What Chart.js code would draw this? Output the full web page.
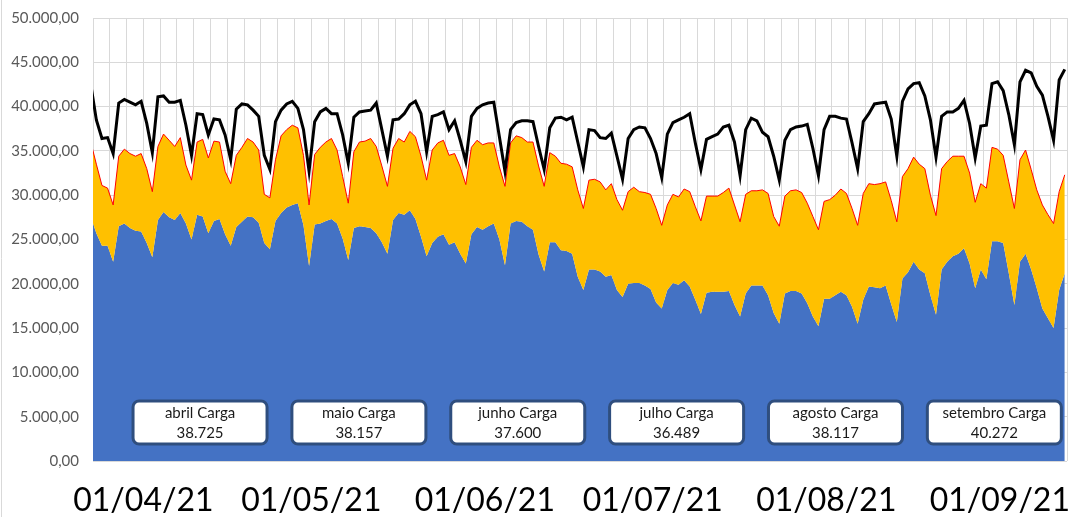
<!DOCTYPE html>
<html>
<head>
<meta charset="utf-8">
<script src="https://cdn.jsdelivr.net/npm/chart.js@4"></script>
<style>
  html, body { margin: 0; padding: 0; background: #fff; }
  canvas { display: block; }
</style>
</head>
<body>
<canvas id="grafico" width="1072" height="517"></canvas>
<script>
// dias a partir de 24/03/21 (indice 0)
const dias = Array.from({ length: 175 }, (_, i) => i);

// tick labels do eixo x e o dia de cada um
const rotulosX = ['01/04/21', '01/05/21', '01/06/21', '01/07/21', '01/08/21', '01/09/21'];
const diaRotulos = [8, 38, 69, 99, 130, 161];

// caixas com a carga media do mes
const meses = ['abril Carga', 'maio Carga', 'junho Carga', 'julho Carga', 'agosto Carga', 'setembro Carga'];
const cargaMedia = [38725, 38157, 37600, 36489, 38117, 40272];

// linha preta (carga)
const carga = [
  42500, 38500, 36400, 36500, 34700, 40400, 40800, 40500, 40200, 40600,
  38100, 34800, 41100, 41200, 40500, 40500, 40700, 37900, 34500, 39200,
  39100, 36800, 38600, 38500, 36800, 34000, 39700, 40300, 40200, 39600,
  38900, 34500, 32900, 38300, 39600, 40300, 40600, 39800, 37400, 32700,
  38300, 39400, 39800, 39200, 39200, 36800, 33600, 38800, 39400, 39500,
  39600, 40400, 37400, 34400, 38500, 38600, 39200, 40200, 40600, 39200,
  34900, 38900, 39100, 39400, 37400, 38400, 36200, 33800, 38900, 39800,
  40200, 40400, 40500, 36600, 32700, 37400, 38200, 38400, 38400, 38300,
  35500, 32900, 37600, 38700, 38800, 38500, 38800, 36000, 33200, 37400,
  37300, 36500, 36400, 37000, 34400, 31800, 36400, 37400, 37700, 37600,
  36400, 34700, 32000, 36900, 38200, 38500, 38800, 39200, 35900, 32900,
  36300, 36600, 36900, 37700, 37900, 36000, 32200, 37400, 38700, 38400,
  37100, 36600, 34400, 31700, 36200, 37400, 37700, 37800, 38000, 35300,
  32200, 37400, 38900, 38900, 38700, 38600, 35900, 33000, 38300, 39200,
  40300, 40400, 40500, 38600, 34400, 40600, 42000, 42600, 42700, 41200,
  38500, 34300, 38900, 39400, 39400, 39800, 40700, 38100, 34200, 37800,
  37900, 42600, 42800, 41800, 39100, 35700, 42800, 44100, 43800, 42300,
  41300, 38900, 36200, 43000, 44200
];

// topo da area laranja (com a borda vermelha)
const topoLaranja = [
  36000, 33500, 31100, 30800, 28900, 34400, 35200, 34700, 34400, 34700,
  33000, 30400, 35500, 36900, 36200, 35500, 36500, 33400, 31700, 36000,
  36300, 34200, 36100, 36000, 32700, 31300, 34500, 35400, 36400, 36000,
  35100, 30100, 29700, 34000, 36700, 37400, 37900, 37600, 34500, 28900,
  34600, 35400, 36000, 36400, 35100, 32100, 29100, 34900, 36000, 36100,
  36400, 35500, 33300, 31000, 35300, 36400, 36000, 37200, 36600, 34400,
  31700, 35100, 35900, 36200, 34500, 34700, 33200, 31200, 35400, 36200,
  35700, 35900, 35900, 33200, 31000, 35900, 36700, 36500, 36000, 36000,
  33300, 31000, 34800, 34400, 33600, 33500, 33200, 30600, 28500, 31700,
  31800, 31500, 30600, 31300, 29500, 28300, 30400, 30900, 30400, 30300,
  30100, 28500, 26600, 28900, 30100, 29800, 30700, 30400, 28700, 27100,
  29900, 29900, 29900, 30300, 30800, 28900, 27000, 30100, 30500, 30500,
  30600, 30200, 27600, 26500, 29900, 30500, 30600, 30300, 29100, 27600,
  26100, 29300, 29500, 30000, 30700, 30200, 28500, 26600, 30200, 31300,
  31200, 31300, 31500, 29400, 27000, 32100, 33000, 34300, 33500, 33000,
  30000, 27700, 33000, 33800, 34400, 34400, 34400, 32500, 29200, 31300,
  30800, 35400, 35200, 34500, 31500, 28500, 34000, 35100, 32900, 30600,
  28900, 27800, 26800, 30400, 32300
];

// area azul
const azul = [
  27600, 25700, 24300, 24300, 22500, 26500, 26800, 26300, 26000, 25900,
  24600, 23000, 27200, 28100, 27500, 27200, 28000, 26800, 25000, 27800,
  27600, 25700, 27100, 27300, 25600, 24300, 26400, 27000, 27600, 27500,
  26900, 24600, 23900, 27100, 28000, 28600, 28900, 29100, 26600, 22000,
  26700, 26800, 27100, 27300, 26800, 25100, 22700, 26300, 26500, 26400,
  26300, 25700, 24700, 23400, 27200, 28000, 27800, 28300, 27300, 25300,
  23100, 24600, 25300, 25600, 24400, 24700, 23400, 22300, 25600, 26400,
  26100, 26500, 26800, 25000, 22100, 26800, 27100, 27000, 26500, 26100,
  23300, 21400, 24700, 24700, 23800, 23700, 23400, 20800, 19300, 21600,
  21600, 21400, 20800, 21000, 19300, 18500, 20000, 20100, 20100, 19800,
  19400, 17900, 17200, 19300, 20100, 19900, 20400, 19700, 18200, 16600,
  19000, 19100, 19100, 19100, 19200, 17600, 16300, 18900, 19800, 19800,
  19800, 18700, 16700, 15500, 18900, 19200, 19200, 18900, 17800, 16300,
  15200, 18300, 18300, 18700, 19100, 18700, 17400, 15500, 18200, 19700,
  19600, 19500, 19800, 17700, 15700, 20600, 21300, 22500, 21600, 21200,
  18700, 16500, 21600, 22500, 23100, 23400, 24000, 22300, 19500, 21600,
  20500, 24800, 24800, 24600, 21200, 17600, 22500, 23400, 21600, 19500,
  17200, 16100, 15000, 19300, 21200
];

const X_MIN = 0.4, X_MAX = 174.4, PASSO_GRADE = 3;
const DESLOC_ROTULO = 1.4;

function milhar(v) {
  return Math.round(v).toString().replace(/\B(?=(\d{3})+(?!\d))/g, '.');
}

const bordaEsquerda = {
  id: 'bordaEsquerda',
  beforeDraw(chart) {
    const ctx = chart.ctx;
    ctx.save();
    ctx.strokeStyle = '#D9D9D9';
    ctx.lineWidth = 1;
    ctx.beginPath();
    ctx.moveTo(1.5, 0);
    ctx.lineTo(1.5, chart.height);
    ctx.stroke();
    ctx.restore();
  }
};

const caixasMes = {
  id: 'caixasMes',
  afterDatasetsDraw(chart) {
    const { ctx, chartArea: a } = chart;
    const w = 134, h = 43, r = 6;
    ctx.save();
    meses.forEach((nome, k) => {
      const cx = a.left + a.width * (0.1099 + 0.1631 * k);
      const x = cx - w / 2, y = a.bottom - 60;
      ctx.beginPath();
      ctx.roundRect(x, y, w, h, r);
      ctx.fillStyle = '#fff';
      ctx.fill();
      ctx.lineWidth = 3;
      ctx.strokeStyle = '#2F4E7E';
      ctx.stroke();
      ctx.fillStyle = '#1A1A1A';
      ctx.font = '15px Lato';
      ctx.textAlign = 'center';
      ctx.textBaseline = 'middle';
      ctx.fillText(nome, cx, y + 12);
      ctx.fillText(milhar(cargaMedia[k]), cx, y + 32);
    });
    ctx.restore();
  }
};

new Chart(document.getElementById('grafico'), {
  type: 'line',
  data: {
    labels: dias,
    datasets: [
      {
        label: 'Hidráulica',
        data: azul,
        order: 3,
        backgroundColor: '#4472C4',
        borderWidth: 0,
        pointRadius: 0,
        fill: 'origin'
      },
      {
        label: 'Outras',
        data: topoLaranja,
        order: 2,
        backgroundColor: '#FFC000',
        borderColor: '#FF0000',
        borderWidth: 1,
        pointRadius: 0,
        fill: '-1'
      },
      {
        label: 'Carga',
        data: carga,
        order: 1,
        borderColor: '#000000',
        borderWidth: 3,
        pointRadius: 0,
        fill: false
      }
    ]
  },
  options: {
    responsive: false,
    animation: false,
    layout: { padding: { top: 18, right: 5, left: 0, bottom: 0 } },
    plugins: {
      legend: { display: false },
      tooltip: { enabled: false }
    },
    scales: {
      x: {
        type: 'linear',
        min: X_MIN,
        max: X_MAX,
        afterBuildTicks: function (scale) {
          const t = [];
          for (let k = 0; X_MIN + k * PASSO_GRADE <= X_MAX + 0.001; k++) t.push({ value: X_MIN + k * PASSO_GRADE });
          scale.ticks = t;
        },
        afterFit: function (scale) {
          scale.height = 0;
          scale.paddingLeft = 0;
          scale.paddingRight = 0;
        },
        ticks: { display: false },
        grid: { color: '#D9D9D9', lineWidth: 1, drawTicks: false },
        border: { display: false }
      },
      xr: {
        type: 'linear',
        position: 'bottom',
        min: X_MIN,
        max: X_MAX,
        afterBuildTicks: function (scale) {
          scale.ticks = diaRotulos.map(d => ({ value: d + DESLOC_ROTULO }));
        },
        afterFit: function (scale) {
          scale.height = 56;
          scale.paddingLeft = 0;
          scale.paddingRight = 0;
        },
        ticks: {
          autoSkip: false,
          maxRotation: 0,
          padding: 20,
          color: '#000000',
          font: { family: 'Lato', size: 32 },
          callback: (v, i) => rotulosX[i]
        },
        grid: { display: false, drawTicks: false },
        border: { display: false }
      },
      y: {
        min: 0,
        max: 50000,
        ticks: {
          stepSize: 5000,
          padding: 14,
          color: '#595959',
          font: { family: 'Lato', size: 15 },
          callback: v => milhar(v) + ',00'
        },
        afterFit: function (scale) {
          scale.width = 93;
          scale.paddingTop = 0;
          scale.paddingBottom = 0;
        },
        grid: { color: '#D9D9D9', lineWidth: 1, drawTicks: false },
        border: { display: false }
      }
    }
  },
  plugins: [bordaEsquerda, caixasMes]
});
</script>
</body>
</html>
